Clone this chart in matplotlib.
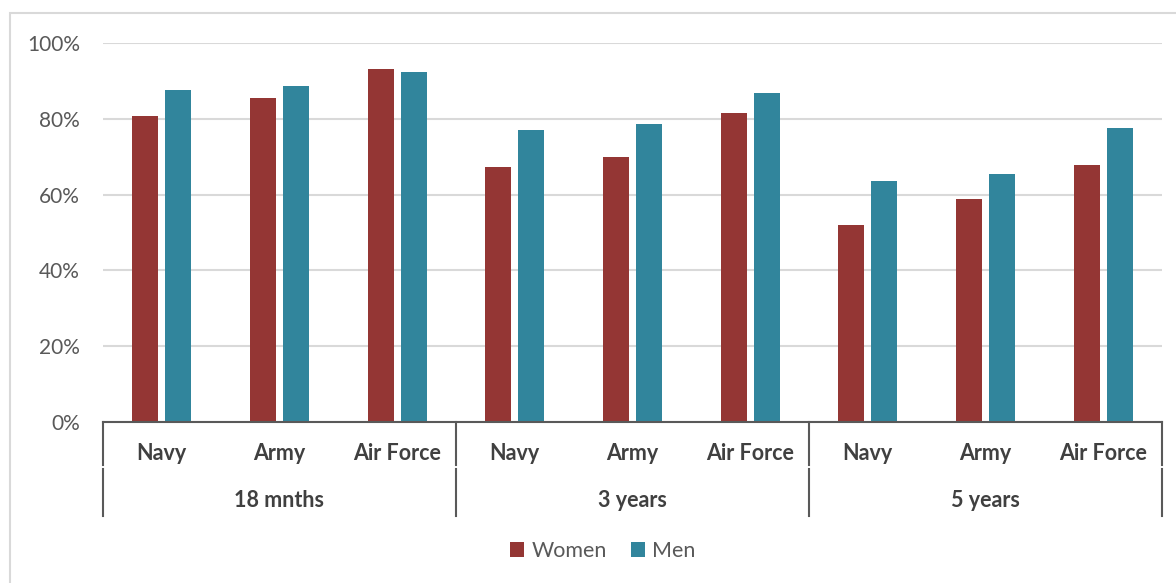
import matplotlib
matplotlib.use("Agg")
import matplotlib.pyplot as plt
from matplotlib.patches import Rectangle
import numpy as np

periods = ["18 mnths", "3 years", "5 years"]
services = ["Navy", "Army", "Air Force"]
women = [80.7, 85.4, 93.1, 67.3, 69.9, 81.5, 51.9, 58.8, 67.7]
men = [87.6, 88.6, 92.3, 77.0, 78.6, 86.9, 63.7, 65.4, 77.6]
yticks = [0, 20, 40, 60, 80, 100]

RED = "#943634"
TEAL = "#31859c"
GREY = "#595959"
DARK = "#404040"

plt.rcParams["font.family"] = ["Lato", "DejaVu Sans"]

W, H = 1176, 583
fig = plt.figure(figsize=(W / 100, H / 100), dpi=100)

# outer chart border, runs off the right and bottom edges
fig.patches.append(Rectangle((10 / W, -0.05), 1.2, 1 - 13 / H + 0.05,
                             transform=fig.transFigure, fill=False,
                             edgecolor="#d9d9d9", lw=1.5))

left, right, top, bottom = 103, 1162, 43, 422
ax = fig.add_axes([left / W, 1 - bottom / H, (right - left) / W, (bottom - top) / H])

x = np.arange(len(women))
width = 0.22
ax.bar(x - 0.14, np.array(women) / 100, width, color=RED, label="Women", zorder=3)
ax.bar(x + 0.14, np.array(men) / 100, width, color=TEAL, label="Men", zorder=3)

ax.set_xlim(-0.5, len(women) - 0.5)
ax.set_ylim(0, 1)
ax.set_yticks([t / 100 for t in yticks])
ax.set_yticklabels([f"{t}%" for t in yticks], color=GREY, fontsize=15)
ax.tick_params(axis="y", length=0, pad=16.5)
ax.set_xticks([])
ax.grid(axis="y", color="#d9d9d9", lw=1.5, zorder=0)
for s in ["top", "right", "left"]:
    ax.spines[s].set_visible(False)
ax.spines["bottom"].set_color(GREY)
ax.spines["bottom"].set_linewidth(1.5)
ax.spines["bottom"].set_zorder(4)

# two-level category axis
trans = ax.get_xaxis_transform()
for i in range(len(women)):
    ax.text(i, -0.082, services[i % 3], transform=trans, ha="center", va="center",
            fontsize=15.5, fontweight="bold", color=DARK)
for g, name in enumerate(periods):
    ax.text(g * 3 + 1, -0.206, name, transform=trans, ha="center", va="center",
            fontsize=15.5, fontweight="bold", color=DARK)
for b in [-0.5, 2.5, 5.5, 8.5]:
    ax.plot([b, b], [0, -0.113], transform=trans, color=GREY, lw=1.5, clip_on=False)
    ax.plot([b, b], [-0.124, -0.248], transform=trans, color=GREY, lw=1.5, clip_on=False)

fig.legend(loc="center", bbox_to_anchor=(603 / W, 1 - 551 / H), ncol=2, frameon=False,
           fontsize=15.5, labelcolor=GREY, handlelength=0.65, handleheight=0.65,
           handletextpad=0.35, columnspacing=1.1)

fig.savefig("out.png", dpi=100)
